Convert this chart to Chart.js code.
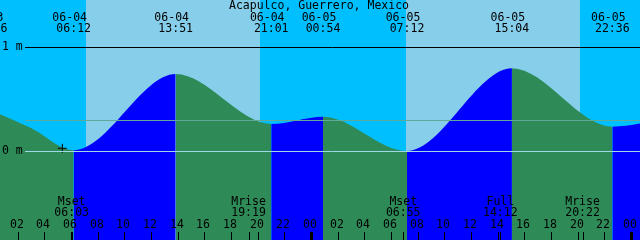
<!DOCTYPE html>
<html>
<head>
<meta charset="utf-8">
<script src="https://cdn.jsdelivr.net/npm/chart.js@4.4.0/dist/chart.umd.min.js"></script>
<style>
  html, body { margin: 0; padding: 0; background: #fff; }
  canvas { display: block; }
</style>
</head>
<body>
<canvas id="tide" width="640" height="240"></canvas>
<script>
var stationName = 'Acapulco, Guerrero, Mexico';

// all times are hours counted from 06-04 00:00
var tideHours = [-0.067, 3.0, 6.2, 13.85, 21.017, 24.9, 31.2, 39.067, 46.6, 50.3];
var tideMeters = [0.395, 0.222, 0.008, 0.74, 0.26, 0.33, 0.0, 0.795, 0.234, 0.30];

// highs and lows labelled along the top
var extremeHours = [-0.067, 6.2, 13.85, 21.017, 24.9, 31.2, 39.067, 46.6];
var extremeDates = ['06-03', '06-04', '06-04', '06-04', '06-05', '06-05', '06-05', '06-05'];
var extremeTimes = ['23:56', '06:12', '13:51', '21:01', '00:54', '07:12', '15:04', '22:36'];

// moon events along the bottom
var moonHours = [6.05, 19.317, 30.917, 38.2, 44.367];
var moonNames = ['Mset', 'Mrise', 'Mset', 'Full', 'Mrise'];
var moonTimes = ['06:03', '19:19', '06:55', '14:12', '20:22'];

var sunriseHours = [7.125, 31.125];
var sunsetHours = [20.175, 44.175];

var hourTicks = [2, 4, 6, 8, 10, 12, 14, 16, 18, 20, 22, 24, 26, 28, 30, 32, 34, 36, 38, 40, 42, 44, 46, 48];
var hourLabels = ['02', '04', '06', '08', '10', '12', '14', '16', '18', '20', '22', '00',
  '02', '04', '06', '08', '10', '12', '14', '16', '18', '20', '22', '00'];

var meanLevel = 0.295;
var nowMark = [{ x: 5.35, y: 0.026 }];

var FONT = '11.5px "DejaVu Sans Mono", monospace';
var FLOOD = '#0000ff';
var EBB = '#2e8b57';

var tidePoints = tideHours.map(function(h, i) { return { x: h, y: tideMeters[i] }; });

var xtidePlugin = {
  id: 'xtide',
  beforeDraw: function(chart) {
    var ctx = chart.ctx, x = chart.scales.x, a = chart.chartArea;
    ctx.save();
    ctx.fillStyle = '#00bfff';
    ctx.fillRect(a.left, a.top, a.right - a.left, a.bottom - a.top);
    ctx.fillStyle = '#87ceeb';
    for (var i = 0; i < sunriseHours.length; i++) {
      var x0 = Math.round(x.getPixelForValue(sunriseHours[i]));
      var x1 = Math.round(x.getPixelForValue(sunsetHours[i]));
      ctx.fillRect(x0, a.top, x1 - x0, a.bottom - a.top);
    }
    ctx.restore();
  },
  afterDatasetsDraw: function(chart) {
    var ctx = chart.ctx, x = chart.scales.x, y = chart.scales.y, a = chart.chartArea;
    ctx.save();

    // datum, mean and 1 m lines
    function hline(v, color) {
      var py = Math.round(y.getPixelForValue(v)) + 0.5;
      ctx.strokeStyle = color;
      ctx.lineWidth = 1;
      ctx.beginPath();
      ctx.moveTo(25, py);
      ctx.lineTo(a.right, py);
      ctx.stroke();
    }
    hline(meanLevel, '#5fa89a');
    hline(0, '#9fd8e6');
    hline(1, '#000000');

    ctx.fillStyle = '#000';
    ctx.font = FONT;
    ctx.textBaseline = 'middle';
    ctx.textAlign = 'left';
    ctx.fillText('1 m', 2, y.getPixelForValue(1));
    ctx.fillText('0 m', 2, y.getPixelForValue(0));

    ctx.textAlign = 'center';
    ctx.fillText(stationName, 319, 6);

    extremeHours.forEach(function(h, i) {
      var px = x.getPixelForValue(h);
      ctx.fillText(extremeDates[i], px - 4, 18);
      ctx.fillText(extremeTimes[i], px, 29.5);
    });

    moonHours.forEach(function(h, i) {
      var px = x.getPixelForValue(h);
      ctx.fillText(moonNames[i], px, 202);
      ctx.fillText(moonTimes[i], px, 213.5);
      ctx.fillRect(Math.round(px), 232, 1, 8);
    });

    hourTicks.forEach(function(h, i) {
      var px = Math.round(x.getPixelForValue(h));
      ctx.fillText(hourLabels[i], px - 1, 225.5);
      if (h % 24 === 0) ctx.fillRect(px - 1, 232, 3, 8);
      else ctx.fillRect(px, 232, 1, 8);
    });

    ctx.restore();
  }
};

new Chart(document.getElementById('tide'), {
  type: 'line',
  data: {
    datasets: [{
      data: nowMark,
      showLine: false,
      pointStyle: 'cross',
      pointRadius: 4.5,
      borderColor: '#000',
      borderWidth: 1
    }, {
      data: tidePoints,
      fill: 'start',
      cubicInterpolationMode: 'monotone',
      pointRadius: 0,
      borderWidth: 0,
      borderColor: 'rgba(0,0,0,0)',
      backgroundColor: EBB,
      segment: {
        backgroundColor: function(c) { return c.p1.parsed.y >= c.p0.parsed.y ? FLOOD : EBB; }
      }
    }]
  },
  options: {
    responsive: false,
    animation: false,
    layout: { padding: 0, autoPadding: false },
    plugins: { legend: { display: false }, tooltip: { enabled: false } },
    scales: {
      x: { type: 'linear', min: 0.675, max: 48.675, display: false },
      y: { min: -0.856, max: 1.452, display: false }
    }
  },
  plugins: [xtidePlugin]
});
</script>
</body>
</html>
